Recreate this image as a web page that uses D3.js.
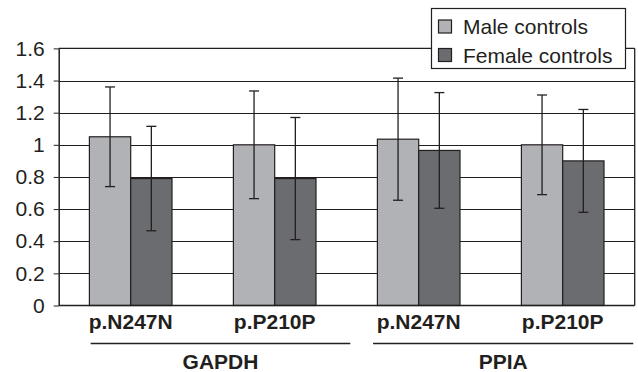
<!DOCTYPE html>
<html>
<head>
<meta charset="utf-8">
<script src="https://cdn.jsdelivr.net/npm/d3@7"></script>
<style>
  body { margin: 0; background: #fff; }
  text { font-family: "Liberation Sans", Arial, sans-serif; fill: #231f20; }
</style>
</head>
<body>
<svg id="chart" width="638" height="372"></svg>
<script>
// categories (gene / variant)
const variants = ["p.N247N", "p.P210P", "p.N247N", "p.P210P"];
const genes = ["GAPDH", "PPIA"];
const seriesNames = ["Male controls", "Female controls"];
// bar means and error (+/-)
const maleValues = [1.05, 1.00, 1.035, 1.00];
const femaleValues = [0.79, 0.79, 0.965, 0.90];
const maleErr = [0.31, 0.335, 0.38, 0.31];
const femaleErr = [0.325, 0.38, 0.36, 0.32];
const yTicks = [0, 0.2, 0.4, 0.6, 0.8, 1, 1.2, 1.4, 1.6];

const colors = ["#b1b2b6", "#6b6c70"];
const ink = "#231f20";

const svg = d3.select("#chart");
const mLeft = 58.7, mRight = 634.7, mTop = 48.4, mBottom = 305.5;

const x = d3.scaleBand().domain(d3.range(variants.length)).range([mLeft, mRight]).paddingInner(0).paddingOuter(0);
const bw = 41.3;
const y = d3.scaleLinear().domain([0, 1.6]).range([mBottom, mTop]);

// gridlines
svg.append("g")
  .selectAll("line")
  .data(yTicks.slice(1))
  .enter().append("line")
  .attr("x1", mLeft).attr("x2", mRight)
  .attr("y1", d => Math.round(y(d)) + 0.5).attr("y2", d => Math.round(y(d)) + 0.5)
  .attr("stroke", ink).attr("stroke-width", 1);

// right border
svg.append("line")
  .attr("x1", mRight).attr("x2", mRight)
  .attr("y1", y(1.6)).attr("y2", y(0))
  .attr("stroke", ink).attr("stroke-width", 1.3);

// y axis
const yAxis = svg.append("g")
  .attr("transform", `translate(${mLeft},0)`)
  .call(d3.axisLeft(y).tickValues(yTicks).tickFormat(d => d3.format("")(d)).tickSize(5).tickPadding(9).tickSizeOuter(0));
yAxis.select(".domain").attr("stroke", ink).attr("stroke-width", 1.5);
yAxis.selectAll(".tick line").attr("stroke", ink);
yAxis.selectAll("text").style("font-size", "21px").attr("fill", ink);

// bars
const rows = variants.map((v, i) => [
  { s: 0, v: maleValues[i], e: maleErr[i], i },
  { s: 1, v: femaleValues[i], e: femaleErr[i], i }
]).flat();

const barX = d => x(d.i) + x.bandwidth() / 2 - bw + d.s * bw;

svg.append("g")
  .selectAll("rect")
  .data(rows)
  .enter().append("rect")
  .attr("x", barX)
  .attr("y", d => y(d.v))
  .attr("width", bw)
  .attr("height", d => y(0) - y(d.v))
  .attr("fill", d => colors[d.s])
  .attr("stroke", ink).attr("stroke-width", 1.2);

// error bars
const eb = svg.append("g").attr("stroke", ink).attr("stroke-width", 1.3);
rows.forEach(d => {
  const cx = barX(d) + bw / 2;
  eb.append("line").attr("x1", cx).attr("x2", cx).attr("y1", y(d.v + d.e)).attr("y2", y(d.v - d.e));
  eb.append("line").attr("x1", cx - 5).attr("x2", cx + 5).attr("y1", y(d.v + d.e)).attr("y2", y(d.v + d.e));
  eb.append("line").attr("x1", cx - 5).attr("x2", cx + 5).attr("y1", y(d.v - d.e)).attr("y2", y(d.v - d.e));
});

// top border & x axis line
svg.append("line").attr("x1", mLeft).attr("x2", mRight).attr("y1", y(1.6)).attr("y2", y(1.6))
  .attr("stroke", ink).attr("stroke-width", 1.3);
svg.append("line").attr("x1", mLeft).attr("x2", mRight).attr("y1", y(0)).attr("y2", y(0))
  .attr("stroke", ink).attr("stroke-width", 1.5);

// category labels
svg.append("g")
  .selectAll("text")
  .data(variants)
  .enter().append("text")
  .attr("x", (d, i) => x(i) + x.bandwidth() / 2)
  .attr("y", 328.5)
  .attr("text-anchor", "middle")
  .style("font-size", "21px").style("font-weight", "bold")
  .text(d => d);

// gene group lines + labels (spans in category units)
const u = d3.scaleLinear().domain([0, variants.length]).range([mLeft, mRight]);
const spans = [[0.222, 2.025], [2.183, 3.99]];
genes.forEach((g, k) => {
  const [a, b] = spans[k];
  svg.append("line").attr("x1", u(a)).attr("x2", u(b)).attr("y1", 343.5).attr("y2", 343.5)
    .attr("stroke", ink).attr("stroke-width", 1.5);
  svg.append("text").attr("x", (u(a) + u(b)) / 2).attr("y", 368.5)
    .attr("text-anchor", "middle")
    .style("font-size", "21px").style("font-weight", "bold")
    .text(g);
});

// legend
const lg = svg.append("g").attr("transform", "translate(431.5,8.5)");
lg.append("rect").attr("width", 194).attr("height", 60)
  .attr("fill", "#fff").attr("stroke", ink).attr("stroke-width", 1.2);
seriesNames.forEach((n, k) => {
  lg.append("rect").attr("x", 7).attr("y", 11.5 + k * 28.5).attr("width", 13).attr("height", 13)
    .attr("fill", colors[k]).attr("stroke", ink).attr("stroke-width", 1.2);
  lg.append("text").attr("x", 31.5).attr("y", 25.5 + k * 28.5)
    .style("font-size", "21px").text(n);
});
</script>
</body>
</html>
